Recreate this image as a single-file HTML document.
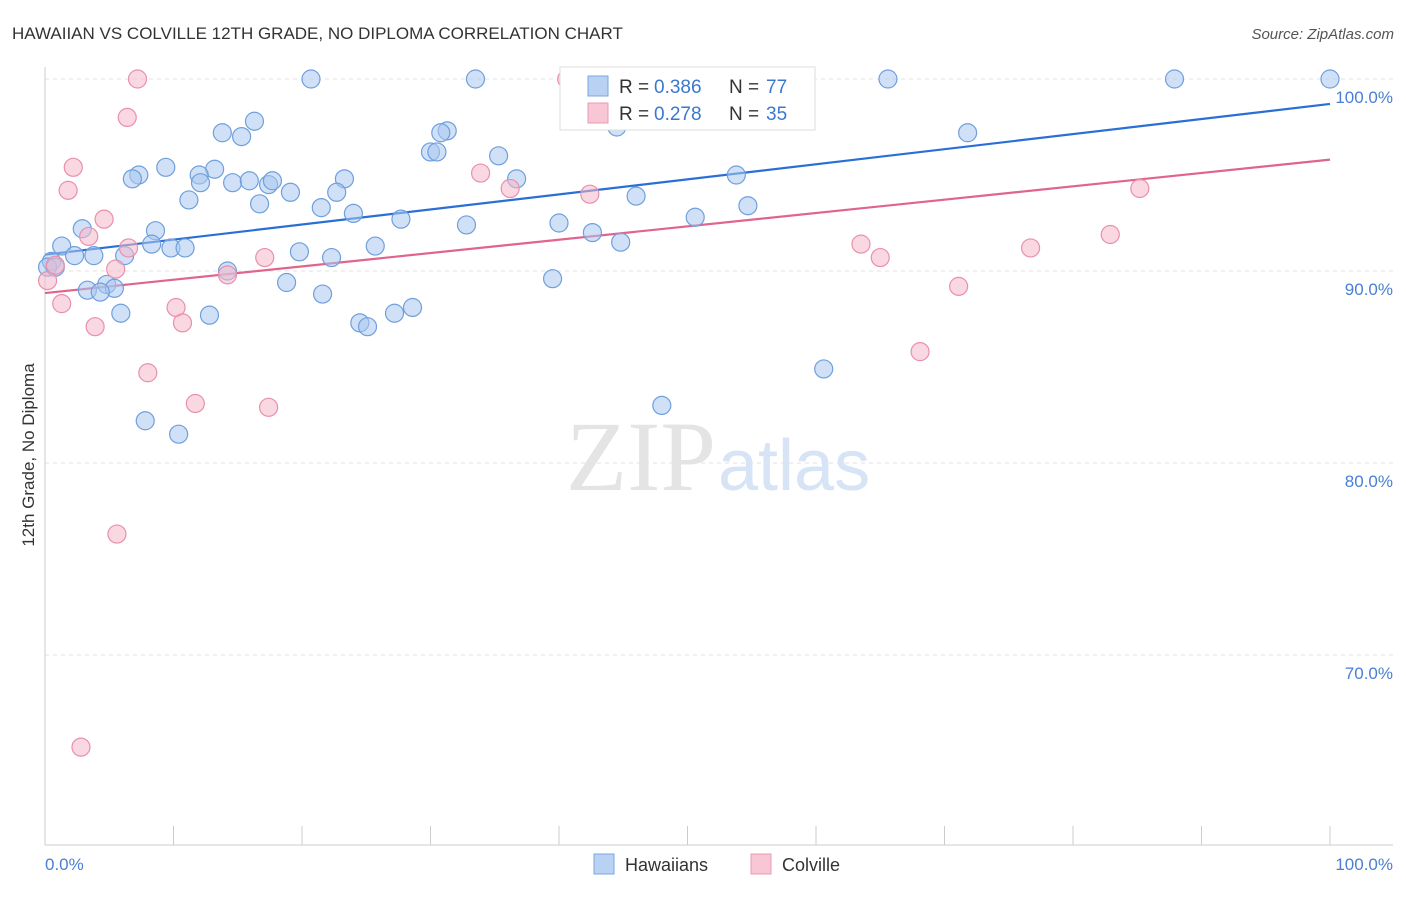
<!DOCTYPE html>
<html><head><meta charset="utf-8"><style>
body{margin:0;background:#fff;font-family:"Liberation Sans",sans-serif;}
</style></head><body>
<svg width="1406" height="892" xmlns="http://www.w3.org/2000/svg">
<text x="12" y="39" font-size="17" fill="#333">HAWAIIAN VS COLVILLE 12TH GRADE, NO DIPLOMA CORRELATION CHART</text>
<text x="1394" y="39" font-size="15" fill="#555" text-anchor="end" font-style="italic">Source: ZipAtlas.com</text>
<g id="grid"></g>
<text x="716" y="490" font-size="100" fill="#e4e4e4" text-anchor="end" font-family="Liberation Serif">ZIP</text>
<text x="718" y="490" font-size="72" fill="#d6e4f5">atlas</text>
<g id="axes"></g>
<g id="lines"></g>
<g id="pts"></g>
<text transform="translate(34,455) rotate(-90)" font-size="17" fill="#333" text-anchor="middle">12th Grade, No Diploma</text>
<text x="45" y="870" font-size="17" fill="#4a7fd4">0.0%</text>
<text x="1393" y="870" font-size="17" fill="#4a7fd4" text-anchor="end">100.0%</text>
<g>
<rect x="560" y="67" width="255" height="63" fill="#fff" stroke="#ddd"/>
<rect x="588" y="76" width="20" height="20" fill="#b9d2f3" stroke="#7aa6e0"/>
<text x="619" y="93" font-size="19" fill="#333">R =</text>
<text x="654" y="93" font-size="19" fill="#3a78d0">0.386</text>
<text x="729" y="93" font-size="19" fill="#333">N =</text>
<text x="766" y="93" font-size="19" fill="#3a78d0">77</text>
<rect x="588" y="103" width="20" height="20" fill="#f8c6d5" stroke="#e99ab4"/>
<text x="619" y="120" font-size="19" fill="#333">R =</text>
<text x="654" y="120" font-size="19" fill="#3a78d0">0.278</text>
<text x="729" y="120" font-size="19" fill="#333">N =</text>
<text x="766" y="120" font-size="19" fill="#3a78d0">35</text>
</g>
<g>
<rect x="594" y="854" width="20" height="20" fill="#b9d2f3" stroke="#7aa6e0"/>
<text x="625" y="871" font-size="18" fill="#333">Hawaiians</text>
<rect x="751" y="854" width="20" height="20" fill="#f8c6d5" stroke="#e99ab4"/>
<text x="782" y="871" font-size="18" fill="#333">Colville</text>
</g>
</svg>
<script>
const yTicks=[100,90,80,70];
const xTicks=[0,10,20,30,40,50,60,70,80,90,100];
const blueX=[20.7,33.5,48.5,65.6,87.9,100,44.5,31.3,30.8,13.8,16.3,15.3,71.8,30.0,30.5,35.3,9.4,13.2,7.3,6.8,12.0,12.1,14.6,15.9,17.4,17.7,19.1,23.3,22.7,36.7,53.8,11.2,16.7,21.5,24.0,27.7,32.8,40.0,46.0,54.7,50.6,42.6,44.8,2.9,8.6,1.3,8.3,9.8,10.9,2.3,3.8,6.2,19.8,22.3,25.7,0.5,0.2,0.8,14.2,18.8,39.5,4.8,5.4,3.3,4.3,21.6,5.9,12.8,24.5,25.1,27.2,28.6,60.6,48.0,7.8,10.4];
const blueY=[100,100,100,100,100,100,97.5,97.3,97.2,97.2,97.8,97.0,97.2,96.2,96.2,96.0,95.4,95.3,95.0,94.8,95.0,94.6,94.6,94.7,94.5,94.7,94.1,94.8,94.1,94.8,95.0,93.7,93.5,93.3,93.0,92.7,92.4,92.5,93.9,93.4,92.8,92.0,91.5,92.2,92.1,91.3,91.4,91.2,91.2,90.8,90.8,90.8,91.0,90.7,91.3,90.5,90.2,90.2,90.0,89.4,89.6,89.3,89.1,89.0,88.9,88.8,87.8,87.7,87.3,87.1,87.8,88.1,84.9,83.0,82.2,81.5];
const pinkX=[7.2,40.6,46.1,53.7,6.4,2.2,1.8,33.9,36.2,42.4,4.6,3.4,6.5,17.1,5.5,14.2,0.2,1.3,10.2,10.7,3.9,63.5,65.0,76.7,82.9,85.2,71.1,68.1,8.0,11.7,17.4,5.6,2.8,0.8];
const pinkY=[100,100,100,100,98.0,95.4,94.2,95.1,94.3,94.0,92.7,91.8,91.2,90.7,90.1,89.8,89.5,88.3,88.1,87.3,87.1,91.4,90.7,91.2,91.9,94.3,89.2,85.8,84.7,83.1,82.9,76.3,65.2,90.3];
const blueLine=[90.85,98.7];
const pinkLine=[88.85,95.8];
const NS="http://www.w3.org/2000/svg";
const X=v=>45+v*12.85, Y=v=>79+(100-v)*19.2;
function mk(t,a,p){const e=document.createElementNS(NS,t);for(const k in a)e.setAttribute(k,a[k]);p.appendChild(e);return e;}
const grid=document.getElementById('grid'),axes=document.getElementById('axes');
yTicks.forEach(v=>{
 const l=mk('line',{x1:45,x2:1393,y1:Y(v),y2:Y(v),stroke:'#e2e2e2','stroke-dasharray':'4,4'},grid);
 
 
 const t=mk('text',{x:1393,y:Y(v)+24,'font-size':17,fill:'#4a7fd4','text-anchor':'end'},axes);
 t.textContent=v.toFixed(1)+'%';
 
 
});
mk('line',{x1:45,x2:45,y1:67,y2:845,stroke:'#ccc'},axes);
mk('line',{x1:45,x2:1393,y1:845,y2:845,stroke:'#ccc'},axes);
xTicks.forEach(v=>{
 const l=mk('line',{x1:X(v),x2:X(v),y1:826,y2:845,stroke:'#ccc'},axes);
 
 
});
const lines=document.getElementById('lines'),pts=document.getElementById('pts');
function drawPts(xs,ys,fill,stroke,name){
 xs.forEach((x,i)=>{
  const c=mk('circle',{cx:X(x),cy:Y(ys[i]),r:9,fill:fill,'fill-opacity':0.55,stroke:stroke,'stroke-width':1.2},pts);
  
  
 });
}
drawPts(blueX,blueY,'#a9c8f0','#6f9fdc','hawaiian-point');
drawPts(pinkX,pinkY,'#f5b8cb','#e98fae','colville-point');
const bl=mk('line',{x1:X(0),y1:Y(blueLine[0]),x2:X(100),y2:Y(blueLine[1]),stroke:'#2a6fd6','stroke-width':2.2},lines);


const pl=mk('line',{x1:X(0),y1:Y(pinkLine[0]),x2:X(100),y2:Y(pinkLine[1]),stroke:'#e0648e','stroke-width':2.2},lines);


</script>
</body></html>
